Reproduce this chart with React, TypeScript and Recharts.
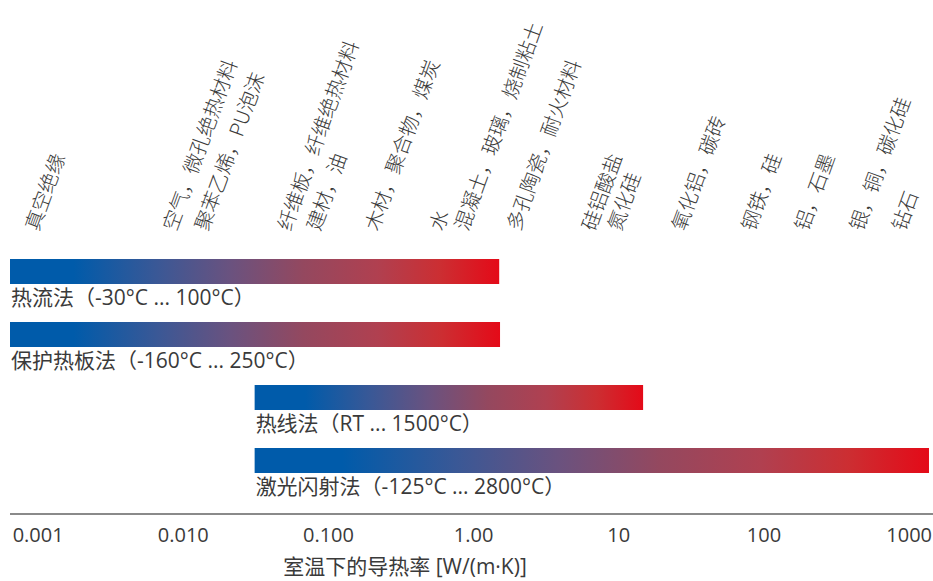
import React from 'react';
import { BarChart, Bar, XAxis, YAxis, LabelList, Label } from 'recharts';

// measuring methods and the conductivity range they cover, W/(m·K)
const methods = [
  '热流法（-30°C ... 100°C）',
  '保护热板法（-160°C ... 250°C）',
  '热线法（RT ... 1500°C）',
  '激光闪射法（-125°C ... 2800°C）',
];
const rangeStart = [0.00064, 0.00064, 0.031, 0.031];
const rangeEnd = [1.5, 1.52, 14.7, 1370];

// materials written along the top, placed at their typical conductivity
const materials = [
  '真空绝缘',
  '空气，微孔绝热材料',
  '聚苯乙烯，PU泡沫',
  '纤维板，纤维绝热材料',
  '建材，油',
  '木材，聚合物，煤炭',
  '水',
  '混凝土，玻璃，烧制粘土',
  '多孔陶瓷，耐火材料',
  '硅铝酸盐',
  '氮化硅',
  '氧化铝，碳砖',
  '钢铁，硅',
  '铝，石墨',
  '银，铜，碳化硅',
  '钻石',
];
const materialK = [
  0.001, 0.0089, 0.0148, 0.055, 0.087, 0.22, 0.61, 0.91, 2.08, 6.85, 10.3, 28.5, 86, 200, 480, 935,
];

const kTicks = [0.001, 0.01, 0.1, 1, 10, 100, 1000];
const kTickLabels = ['0.001', '0.010', '0.100', '1.00', '10', '100', '1000'];

const kDomain = [0.00064, 1460];

const data = methods.map((name, i) => ({ name, range: [rangeStart[i], rangeEnd[i]] }));

const latinFont = '"Open Sans", "Noto Sans CJK SC", sans-serif';
const cjkFont = '"Noto Sans CJK SC", "Noto Sans", sans-serif';
const textColor = '#3a3a3a';

const MaterialTick = (props: any) => {
  const { x, y, index } = props;
  return (
    <text
      transform={`translate(${x},${y}) rotate(-70)`}
      textAnchor="start"
      fontSize={20}
      fontWeight={300}
      fontFamily={cjkFont}
      fill={textColor}
    >
      {materials[index]}
    </text>
  );
};

const MethodLabel = (props: any) => {
  const { x, y, height, value } = props;
  return (
    <text x={x + 1} y={y + height + 21} fontSize={21} fontFamily={latinFont} fill={textColor}>
      {value}
    </text>
  );
};

const AxisTitle = (props: any) => {
  const { viewBox } = props;
  return (
    <text
      x={viewBox.x + viewBox.width * 0.428}
      y={viewBox.y + viewBox.height - 7}
      textAnchor="middle"
      fontSize={21}
      fontFamily={latinFont}
      fill={textColor}
    >
      室温下的导热率 [W/(m·K)]
    </text>
  );
};

export default function App() {
  return (
    <div style={{ position: 'absolute', left: 0, top: 0, width: 933, height: 581, background: '#fff' }}>
      <BarChart
        width={933}
        height={581}
        data={data}
        layout="vertical"
        margin={{ top: 230, right: 0, bottom: 0, left: 10 }}
      >
        <defs>
          <linearGradient id="barGrad" x1="0" y1="0" x2="1" y2="0">
            <stop offset="0%" stopColor="#005BAA" />
            <stop offset="13%" stopColor="#005BAA" />
            <stop offset="30%" stopColor="#3A5896" />
            <stop offset="45%" stopColor="#6A527F" />
            <stop offset="60%" stopColor="#94485F" />
            <stop offset="75%" stopColor="#B04050" />
            <stop offset="88%" stopColor="#CC2E32" />
            <stop offset="100%" stopColor="#E40A18" />
          </linearGradient>
        </defs>
        <XAxis
          xAxisId="top"
          orientation="top"
          type="number"
          scale="log"
          domain={kDomain}
          allowDataOverflow
          ticks={materialK}
          interval={0}
          height={10}
          axisLine={false}
          tickLine={false}
          tickSize={0}
          tickMargin={8}
          tick={<MaterialTick />}
        />
        <XAxis
          xAxisId="k"
          orientation="bottom"
          type="number"
          scale="log"
          domain={kDomain}
          allowDataOverflow
          ticks={kTicks}
          interval={0}
          tickFormatter={(v: number) => kTickLabels[kTicks.indexOf(v)]}
          height={67}
          axisLine={{ stroke: '#8a8a8a', strokeWidth: 2 }}
          tickLine={false}
          tickSize={0}
          tickMargin={14}
          tick={{ fontSize: 20, fontFamily: latinFont, fill: textColor }}
        >
          <Label content={<AxisTitle />} />
        </XAxis>
        <YAxis type="category" dataKey="name" hide padding={{ top: 0, bottom: 22 }} />
        <Bar xAxisId="k" dataKey="range" barSize={25} fill="url(#barGrad)" isAnimationActive={false}>
          <LabelList dataKey="name" content={<MethodLabel />} />
        </Bar>
      </BarChart>
    </div>
  );
}
